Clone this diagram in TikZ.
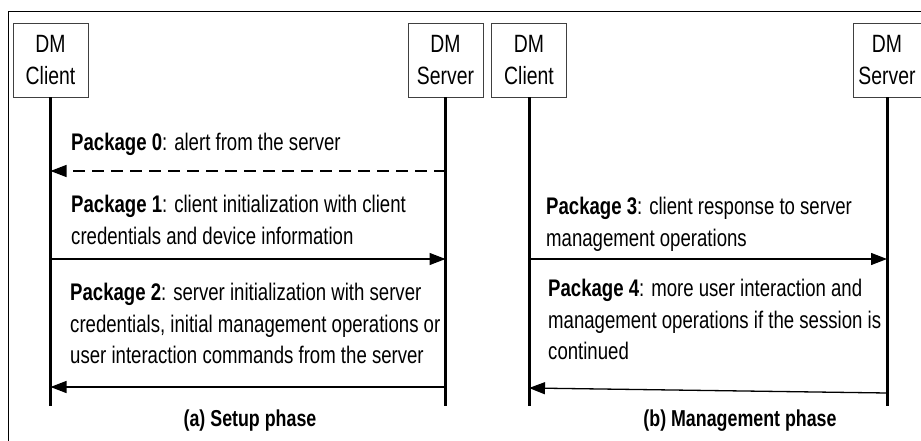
\documentclass[tikz,border=0pt]{standalone}
\usepackage{fontspec}
\setmainfont{Liberation Sans}[FakeStretch=0.775]
\usetikzlibrary{arrows.meta}

\tikzset{
  entity/.style={draw=black!75, line width=0.8pt, minimum width=75pt, minimum height=74pt,
    inner sep=0pt, align=center, font=\fontsize{25}{32}\selectfont},
  lifeline/.style={line width=3pt},
  msg/.style={line width=1.3pt, -{Triangle[length=16pt,width=12pt]}},
  msgtext/.style={anchor=north west, align=left, inner sep=0pt, font=\fontsize{24}{31.5}\selectfont},
  phase/.style={inner sep=0pt, font=\bfseries\fontsize{23}{26}\selectfont}
}

\begin{document}
\begin{tikzpicture}[x=1pt,y=1pt,yscale=-1]
\useasboundingbox (0,0) rectangle (921,441);

% frame
\draw [line width=0.8pt] (8,441) -- (8,11) -- (921,11);

% Shapes: entity boxes
\node [entity] (cliA) at (50.5,60) {DM\\Client};
\node [entity] (srvA) at (445.5,60) {DM\\Server};
\node [entity] (cliB) at (529,60) {DM\\Client};
\node [entity, minimum width=68pt] (srvB) at (887,60) {DM\\Server};

% Straight Lines: lifelines
\foreach \n in {cliA,srvA,cliB,srvB}
  \draw [lifeline] (\n.south) -- (\n.south |- 0,406);

% end points of the messages
\coordinate (p0s) at (srvA.south |- 0,171);
\coordinate (p0c) at (cliA.south |- 0,171);
\coordinate (p1c) at (cliA.south |- 0,259);
\coordinate (p1s) at (srvA.south |- 0,259);
\coordinate (p2s) at (srvA.south |- 0,387);
\coordinate (p2c) at (cliA.south |- 0,387);
\coordinate (p3c) at (cliB.south |- 0,259);
\coordinate (p3s) at (srvB.south |- 0,259);
\coordinate (p4s) at (srvB.south |- 0,393);
\coordinate (p4c) at (cliB.south |- 0,388);

% Straight Lines: messages
\draw [msg, dash pattern={on 12pt off 7pt}] (p0s) -- (p0c);
\draw [msg] (p1c) -- (p1s);
\draw [msg] (p2s) -- (p2c);
\draw [msg] (p3c) -- (p3s);
\draw [msg] (p4s) -- (p4c);

% Text Node
\node [msgtext] (t0) at (71,133) {\textbf{Package 0}: alert from the server};
% Text Node
\node [msgtext] (t1) at (71,195) {\textbf{Package 1}: client initialization with client\\credentials and device information};
% Text Node
\node [msgtext] (t2) at (70,283) {\textbf{Package 2}: server initialization with server\\credentials, initial management operations or\\user interaction commands from the server};
% Text Node
\node [msgtext] (t3) at (546,197) {\textbf{Package 3}: client response to server\\management operations};
% Text Node
\node [msgtext] (t4) at (548,279) {\textbf{Package 4}: more user interaction and\\management operations if the session is\\continued};

% Text Node
\node [phase] (capA) at (250,421) {(a) Setup phase};
% Text Node
\node [phase] (capB) at (740,421) {(b) Management phase};
\end{tikzpicture}
\end{document}
